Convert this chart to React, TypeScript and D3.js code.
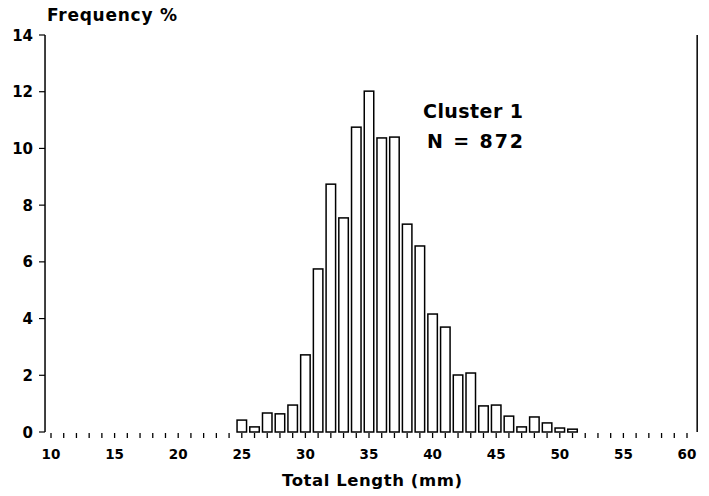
import React from "react";
import * as d3 from "d3";

const lengths = [25, 26, 27, 28, 29, 30, 31, 32, 33, 34, 35, 36, 37, 38, 39, 40, 41, 42, 43, 44, 45, 46, 47, 48, 49, 50, 51];
const frequencies = [0.42, 0.18, 0.67, 0.64, 0.95, 2.72, 5.75, 8.74, 7.55, 10.75, 12.02, 10.37, 10.4, 7.33, 6.56, 4.16, 3.7, 2.01, 2.08, 0.92, 0.95, 0.56, 0.18, 0.53, 0.32, 0.14, 0.1];
const xTickLabels = [10, 15, 20, 25, 30, 35, 40, 45, 50, 55, 60];
const yTickLabels = [0, 2, 4, 6, 8, 10, 12, 14];
const annotation = ["Cluster 1", "N = 872"];

const W = 709;
const H = 496;

export default function App() {
  const x = d3.scaleLinear().domain([10, 60]).range([51, 687]);
  const y = d3.scaleLinear().domain([0, 14]).range([432, 35]);
  const minorTicks = d3.range(10, 61, 1);
  const barW = 9.5;
  const font = "'DejaVu Sans', Verdana, sans-serif";
  const axisX = x(9.53);
  return (
    <svg width={W} height={H} style={{ position: "absolute", left: 0, top: 0, background: "#fff" }}>
      <rect x={0} y={0} width={W} height={H} fill="#fff" />
      {lengths.map((l, i) => (
        <rect
          key={l}
          x={x(l) - barW / 2}
          y={y(frequencies[i])}
          width={barW}
          height={y(0) - y(frequencies[i])}
          fill="#fff"
          stroke="#000"
          strokeWidth={1.5}
        />
      ))}
      <line x1={axisX} x2={axisX} y1={y(14)} y2={y(0)} stroke="#000" strokeWidth={1.5} />
      <line x1={x(60.8)} x2={x(60.8)} y1={y(14)} y2={y(0)} stroke="#000" strokeWidth={1.5} />
      {yTickLabels.map((v) => (
        <g key={v}>
          <line x1={axisX - 6} x2={axisX} y1={y(v)} y2={y(v)} stroke="#000" strokeWidth={1.2} />
          <text x={33} y={y(v) + 5.5} textAnchor="end" fontFamily={font} fontWeight="bold" fontSize={15}>
            {v}
          </text>
        </g>
      ))}
      {minorTicks.map((t) => (
        <line key={t} x1={x(t)} x2={x(t)} y1={y(0) + 1} y2={y(0) + 6} stroke="#000" strokeWidth={1.3} />
      ))}
      {xTickLabels.map((t) => (
        <text key={t} x={x(t)} y={459} textAnchor="middle" fontFamily={font} fontWeight="bold" fontSize={13.5}>
          {t}
        </text>
      ))}
      <text x={47} y={21} fontFamily={font} fontWeight="bold" fontSize={17} textLength={130} lengthAdjust="spacing">
        Frequency %
      </text>
      <text x={282} y={486} fontFamily={font} fontWeight="bold" fontSize={16.5} textLength={180} lengthAdjust="spacing">
        Total Length (mm)
      </text>
      <text x={423} y={118} fontFamily={font} fontWeight="bold" fontSize={19} textLength={100} lengthAdjust="spacing">
        {annotation[0]}
      </text>
      <text x={427} y={148} fontFamily={font} fontWeight="bold" fontSize={19} textLength={96} lengthAdjust="spacing">
        {annotation[1]}
      </text>
    </svg>
  );
}
